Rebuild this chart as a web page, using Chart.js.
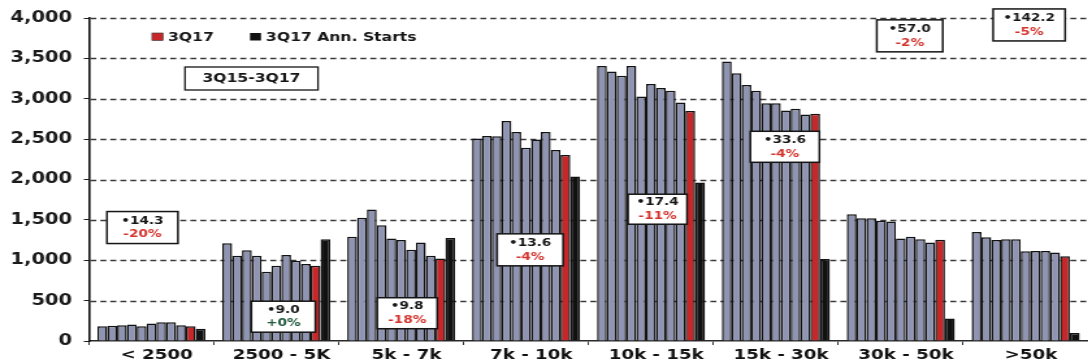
<!DOCTYPE html>
<html>
<head>
<meta charset="utf-8">
<script src="https://cdn.jsdelivr.net/npm/chart.js@4"></script>
<style>
  html, body { margin: 0; padding: 0; background: #ffffff; overflow: hidden; }
  #wrap { width: 837px; height: 364px; transform: scaleX(1.3); transform-origin: 0 0; }
  canvas { display: block; }
</style>
</head>
<body>
<div id="wrap"><canvas id="c" width="837" height="364"></canvas></div>
<script>
// ---- data ----
const categories = ['< 2500', '2500 - 5K', '5k - 7k', '7k - 10k', '10k - 15k', '15k - 30k', '30k - 50k', '>50k'];
const grayNames = ['2Q15', '3Q15', '4Q15', '1Q16', '2Q16', '3Q16', '4Q16', '1Q17', '2Q17'];
const s2Q15 = [184, 1211, 1292, 2507, 3407, 3460, 1570, 1350];
const s3Q15 = [188, 1055, 1525, 2540, 3337, 3317, 1520, 1285];
const s4Q15 = [196, 1125, 1628, 2536, 3285, 3170, 1520, 1250];
const s1Q16 = [205, 1055, 1432, 2724, 3407, 3100, 1490, 1260];
const s2Q16 = [184, 859, 1268, 2589, 3027, 2945, 1480, 1260];
const s3Q16 = [217, 933, 1252, 2393, 3182, 2945, 1270, 1110];
const s4Q16 = [233, 1064, 1129, 2495, 3133, 2855, 1290, 1115];
const s1Q17 = [233, 994, 1219, 2589, 3100, 2875, 1260, 1115];
const s2Q17 = [196, 953, 1055, 2364, 2953, 2806, 1220, 1095];
const s3Q17 = [182, 933, 1022, 2303, 2847, 2814, 1255, 1050];
const s3Q17Ann = [151, 1260, 1276, 2037, 1963, 1015, 280, 100];
const legendLabels = ['3Q17', '3Q17 Ann. Starts'];
const periodLabel = '3Q15-3Q17';
const boxValues = ['14.3', '9.0', '9.8', '13.6', '17.4', '33.6', '57.0', '142.2'];
const boxChanges = ['-20%', '+0%', '-18%', '-4%', '-11%', '-4%', '-2%', '-5%'];

// ---- styling / layout ----
const S = 1.3; // horizontal stretch of the page
const FONT = '"DejaVu Sans", Verdana, sans-serif';
const GRAY = '#8e94b2', RED = '#c8272a', BLACK = '#111111', EDGE = '#121212';
// annotation boxes: dx (page px from category centre), v (value at box centre), w/h in page px
const boxLayout = [
  { dx: -9, v: 1405, w: 71, h: 32 },
  { dx: 7, v: 301, w: 64, h: 31 },
  { dx: 6, v: 344, w: 60, h: 31 },
  { dx: 4, v: 1129, w: 66, h: 32 },
  { dx: 6.5, v: 1632, w: 59, h: 30 },
  { dx: 9, v: 2405, w: 69, h: 31 },
  { dx: 9, v: 3779, w: 66, h: 32 },
  { dx: 3.5, v: 3914, w: 72, h: 32 }
];

const graySeries = [s2Q15, s3Q15, s4Q15, s1Q16, s2Q16, s3Q16, s4Q16, s1Q17, s2Q17];
const datasets = graySeries.map((d, i) => ({
  label: grayNames[i], data: d, backgroundColor: GRAY, borderColor: EDGE, borderWidth: 1.5
}));
datasets.push({ label: legendLabels[0], data: s3Q17, backgroundColor: RED, borderColor: EDGE, borderWidth: 1.5 });
datasets.push({ label: legendLabels[1], data: s3Q17Ann, backgroundColor: BLACK, borderColor: EDGE, borderWidth: 1.5 });

// dashed horizontal grid lines at the y scale's own ticks
const dashedGrid = {
  id: 'dashedGrid',
  beforeDatasetsDraw(chart) {
    const { ctx, chartArea: a, scales: { y } } = chart;
    ctx.save();
    ctx.strokeStyle = '#3a3a3a';
    ctx.lineWidth = 1.5;
    ctx.setLineDash([6 / S, 4 / S]);
    y.ticks.forEach(t => {
      if (t.value === 0) return;
      const py = Math.round(y.getPixelForValue(t.value)) + 0.5;
      ctx.beginPath();
      ctx.moveTo(a.left + 1, py);
      ctx.lineTo(a.right, py);
      ctx.stroke();
    });
    ctx.restore();
  }
};

const annot = {
  id: 'annot',
  afterDatasetsDraw(chart) {
    const { ctx, scales: { x, y } } = chart;
    ctx.save();
    // value boxes
    boxLayout.forEach((b, i) => {
      const cx = x.getPixelForValue(i) + b.dx / S;
      const cy = y.getPixelForValue(b.v);
      const w = b.w / S, h = b.h;
      ctx.fillStyle = '#ffffff';
      ctx.fillRect(cx - w / 2, cy - h / 2, w, h);
      ctx.strokeStyle = '#151515';
      ctx.lineWidth = 1.5;
      ctx.strokeRect(cx - w / 2, cy - h / 2, w, h);
      ctx.font = 'bold 10.5px ' + FONT;
      ctx.textAlign = 'center';
      ctx.textBaseline = 'middle';
      ctx.fillStyle = '#151515';
      ctx.fillText('\u2022' + boxValues[i], cx, cy - 6.5);
      ctx.fillStyle = boxChanges[i].charAt(0) === '+' ? '#1f5a3d' : '#d3352e';
      ctx.fillText(boxChanges[i], cx, cy + 7);
    });
    // legend
    ctx.textAlign = 'left';
    ctx.textBaseline = 'middle';
    ctx.font = 'bold 12px ' + FONT;
    ctx.fillStyle = RED;
    ctx.fillRect(152 / S, 33, 11 / S, 7.5);
    ctx.strokeStyle = '#333'; ctx.lineWidth = 0.6;
    ctx.strokeRect(152 / S, 33, 11 / S, 7.5);
    ctx.fillStyle = '#151515';
    ctx.fillText(legendLabels[0], 168 / S, 37.5);
    ctx.fillStyle = BLACK;
    ctx.fillRect(250 / S, 33, 11 / S, 7.5);
    ctx.fillStyle = '#151515';
    ctx.fillText(legendLabels[1], 266 / S, 37.5);
    // period box
    ctx.fillStyle = '#ffffff';
    ctx.fillRect(185 / S, 67, 133 / S, 23);
    ctx.strokeStyle = '#151515'; ctx.lineWidth = 1.3;
    ctx.strokeRect(185 / S, 67, 133 / S, 23);
    ctx.fillStyle = '#151515';
    ctx.textAlign = 'center';
    ctx.font = 'bold 12px ' + FONT;
    ctx.fillText(periodLabel, 251.5 / S, 79);
    ctx.restore();
  }
};

new Chart(document.getElementById('c'), {
  type: 'bar',
  data: { labels: categories, datasets },
  options: {
    responsive: false,
    animation: false,
    devicePixelRatio: 1,
    layout: { padding: { top: 15, right: 0, left: 0, bottom: 0 } },
    plugins: { legend: { display: false }, tooltip: { enabled: false } },
    datasets: { bar: { categoryPercentage: 0.865, barPercentage: 1.0 } },
    scales: {
      x: {
        afterFit(s) { s.height = 23; },
        grid: { display: true, drawOnChartArea: false, offset: true, tickLength: 4, color: '#333', lineWidth: 1 },
        border: { display: true, color: '#2a2a2a', width: 1.6 },
        ticks: { color: '#111', font: { family: FONT, size: 14, weight: 'bold' }, padding: 2, labelOffset: 4, maxRotation: 0, autoSkip: false }
      },
      y: {
        min: 0, max: 4000,
        afterFit(s) { s.width = 89 / S; },
        ticks: {
          stepSize: 500, padding: 9, color: '#1a1a1a',
          font: { family: FONT, size: 15, weight: 'bold' },
          callback: v => Number(v).toLocaleString('en-US')
        },
        grid: { display: true, drawOnChartArea: false, color: '#222', tickLength: 4, tickColor: '#222', tickWidth: 1 },
        border: { display: true, color: '#111', width: 1.6 }
      }
    }
  },
  plugins: [dashedGrid, annot]
});
</script>
</body>
</html>
